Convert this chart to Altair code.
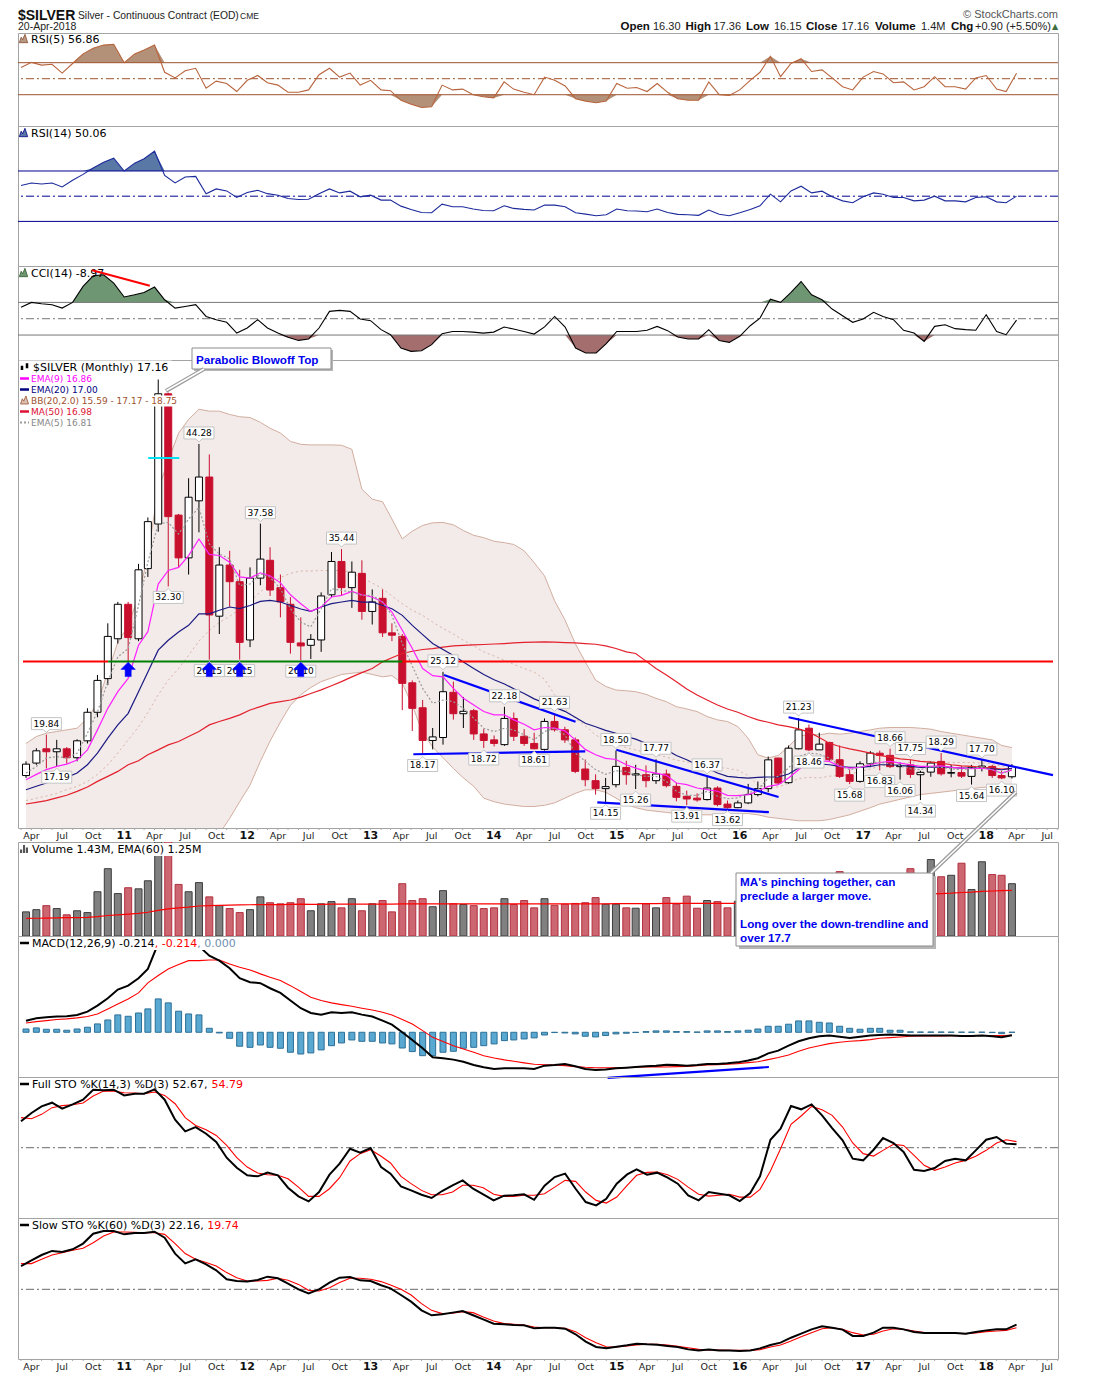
import altair as alt
import pandas as pd

# ---------------- values: monthly bars, Mar-2010 .. Apr-2018 ----------------
OPEN = [16.40, 17.45, 18.65, 18.40, 18.65, 17.90, 19.32, 21.72, 24.55, 27.90,
        30.80, 27.90, 33.80, 37.55, 48.50, 38.30, 34.70, 39.50, 41.50, 29.80, 34.10, 32.70,
        27.80, 33.00, 34.50, 32.20, 30.80, 27.55, 27.35, 27.80, 31.60, 34.40, 32.20, 33.40,
        30.20, 31.30, 28.40, 28.10, 24.20, 22.10, 19.35, 19.60, 23.40, 21.60, 21.85, 19.90,
        19.40, 19.00, 21.20, 19.70, 19.10, 18.60, 20.95, 20.25, 19.40, 16.95, 15.97, 15.30,
        15.63, 17.08, 16.45, 16.47, 15.97, 16.53, 15.49, 14.66, 14.50, 14.38, 15.35, 14.00,
        13.70, 14.10, 14.80, 15.30, 17.87, 15.80, 18.65, 20.38, 18.56, 19.18, 17.73, 16.47,
        15.91, 17.39, 18.28, 18.10, 17.15, 17.30, 16.47, 16.69, 17.59, 16.60, 16.65, 16.33,
        17.05, 17.17, 16.40, 16.30]
HIGH = [17.60, 18.70, 19.84, 19.40, 18.80, 19.45, 22.06, 24.86, 29.20, 31.00,
        31.00, 34.20, 38.10, 49.70, 48.60, 38.40, 41.40, 44.28, 43.40, 35.60, 35.30, 33.70,
        33.90, 37.58, 35.60, 33.30, 31.40, 29.70, 28.30, 31.80, 35.20, 35.44, 34.40, 34.50,
        32.05, 32.05, 29.20, 28.30, 24.40, 22.75, 20.40, 25.12, 24.30, 23.00, 22.00, 20.30,
        19.77, 22.18, 21.70, 20.30, 20.00, 21.20, 21.63, 20.50, 19.60, 17.75, 16.50, 16.20,
        18.50, 17.64, 17.30, 17.25, 17.77, 16.90, 15.80, 15.13, 14.90, 16.37, 15.50, 14.30,
        14.30, 15.70, 15.90, 18.00, 17.90, 18.93, 21.23, 20.70, 20.00, 19.25, 18.93, 16.90,
        17.60, 18.45, 18.50, 18.66, 17.50, 17.75, 16.80, 17.60, 18.29, 17.30, 17.20, 17.30,
        17.70, 17.30, 16.80, 17.36]
LOW = [16.20, 17.30, 17.00, 17.19, 17.40, 17.60, 19.10, 21.30, 24.00, 27.50,
       26.00, 27.70, 33.10, 36.90, 32.30, 33.90, 33.30, 36.85, 26.15, 28.30, 30.60, 26.15,
       27.20, 32.40, 31.50, 29.70, 26.65, 26.10, 26.20, 26.80, 31.40, 31.50, 30.50, 29.50,
       29.10, 28.05, 27.70, 21.90, 20.15, 18.17, 18.60, 19.00, 21.10, 20.40, 19.40, 18.72,
       18.85, 18.90, 19.30, 18.90, 18.61, 18.50, 20.10, 19.15, 16.60, 15.50, 14.80, 14.15,
       15.40, 15.63, 15.26, 15.41, 15.70, 15.40, 14.24, 13.91, 14.20, 14.30, 13.82, 13.62,
       13.65, 14.00, 14.65, 15.00, 15.70, 15.70, 18.60, 18.46, 18.55, 17.60, 16.20, 15.68,
       15.80, 17.10, 16.83, 17.03, 16.06, 16.20, 14.34, 16.30, 16.40, 16.25, 16.20, 15.64,
       16.75, 16.20, 16.10, 16.15]
CLOSE = [17.36, 18.48, 18.40, 18.65, 17.90, 19.32, 21.72, 24.40, 28.10, 30.80,
         28.00, 33.70, 37.75, 48.50, 38.17, 34.70, 39.80, 41.50, 29.90, 34.10, 32.70, 27.60,
         33.00, 34.60, 32.00, 31.00, 27.60, 27.30, 27.85, 31.50, 34.40, 32.20, 33.50, 30.20,
         31.00, 28.40, 28.20, 24.15, 22.05, 19.35, 19.65, 23.45, 21.60, 21.80, 19.90, 19.35,
         19.10, 21.20, 19.70, 19.10, 18.65, 20.95, 20.25, 19.40, 16.75, 16.05, 15.30, 15.47,
         17.17, 16.47, 16.55, 15.97, 16.53, 15.55, 14.57, 14.43, 14.35, 15.35, 13.96, 13.70,
         14.10, 14.80, 15.30, 17.72, 15.77, 18.70, 20.24, 18.56, 19.04, 17.73, 16.33, 15.91,
         17.39, 18.29, 18.09, 17.15, 17.25, 16.50, 16.67, 17.45, 16.55, 16.65, 16.35, 17.09,
         17.20, 16.40, 16.20, 17.16]
VOLUME_M = [0.66, 0.72, 0.83, 0.75, 0.58, 0.69, 0.64, 1.21, 1.84, 1.16,
            1.32, 1.29, 1.51, 2.60, 2.60, 1.41, 1.21, 1.46, 1.07, 0.83, 0.75, 0.64,
            0.72, 1.07, 0.91, 0.88, 0.91, 1.02, 0.69, 0.88, 0.94, 0.77, 1.02, 0.69,
            0.88, 0.97, 0.66, 1.43, 0.97, 1.02, 0.80, 1.24, 0.88, 0.86, 0.83, 0.75,
            0.77, 1.02, 0.86, 0.97, 0.77, 1.02, 0.84, 0.87, 0.89, 0.91, 1.05, 0.87,
            0.87, 0.77, 0.76, 0.88, 0.77, 1.05, 0.87, 1.09, 0.76, 0.97, 0.94, 0.77,
            0.95, 1.10, 1.00, 1.30, 1.40, 1.50, 1.50, 1.30, 1.20, 1.30, 1.76, 1.20,
            1.20, 1.30, 1.50, 1.40, 1.50, 1.84, 1.60, 2.09, 1.62, 1.66, 1.99, 1.27,
            2.03, 1.68, 1.66, 1.43]
VOL_EMA60_M = [0.48, 0.485, 0.49, 0.495, 0.50, 0.505, 0.51, 0.53, 0.56, 0.58,
               0.60, 0.62, 0.65, 0.70, 0.74, 0.77, 0.79, 0.82, 0.83, 0.84, 0.845, 0.85,
               0.855, 0.86, 0.86, 0.86, 0.865, 0.87, 0.865, 0.865, 0.87, 0.87, 0.87, 0.87,
               0.87, 0.87, 0.87, 0.88, 0.88, 0.88, 0.88, 0.88, 0.88, 0.88, 0.88, 0.88,
               0.88, 0.88, 0.88, 0.88, 0.88, 0.88, 0.88, 0.88, 0.88, 0.88, 0.88, 0.88,
               0.885, 0.885, 0.885, 0.885, 0.885, 0.89, 0.89, 0.89, 0.89, 0.89, 0.89, 0.89,
               0.89, 0.90, 0.91, 0.92, 0.94, 0.96, 0.98, 0.99, 1.00, 1.01, 1.03, 1.04,
               1.05, 1.06, 1.08, 1.09, 1.10, 1.12, 1.13, 1.15, 1.16, 1.17, 1.19, 1.20,
               1.22, 1.23, 1.24, 1.25]
EMA9 = [16.05, 16.50, 16.90, 17.17, 17.36, 17.70, 18.56, 20.24, 22.05, 23.45,
        24.57, 27.36, 28.50, 32.50, 33.64, 33.90, 34.90, 36.29, 35.00, 34.90, 34.34, 33.10,
        33.00, 33.45, 33.20, 32.60, 31.60, 30.85, 30.20, 30.57, 31.41, 31.55, 31.88, 31.60,
        31.41, 30.99, 30.15, 28.62, 27.08, 25.40, 24.80, 24.70, 23.73, 22.90, 22.33, 21.78,
        21.50, 21.50, 21.08, 20.71, 20.24, 20.44, 20.38, 20.16, 19.40, 18.60, 18.15, 17.85,
        17.75, 17.31, 17.03, 16.75, 16.61, 16.42, 15.77, 15.63, 15.35, 15.21, 15.08, 14.74,
        14.71, 14.80, 15.08, 15.49, 15.63, 16.19, 16.89, 17.59, 17.64, 17.59, 17.17, 17.03,
        17.09, 17.31, 17.50, 17.59, 17.45, 17.31, 17.17, 17.17, 17.22, 17.09, 17.03, 16.97,
        17.03, 16.89, 16.61, 16.86]
EMA20 = [15.21, 15.50, 15.77, 16.05, 16.25, 16.61, 17.31, 18.28, 19.54, 20.66,
         21.63, 23.45, 25.10, 26.94, 27.78, 28.47, 29.03, 30.00, 30.00, 30.30, 30.57, 30.43,
         30.70, 31.04, 31.13, 30.99, 30.70, 30.40, 30.20, 30.57, 30.85, 30.99, 31.13, 30.99,
         30.99, 30.70, 30.43, 29.87, 29.03, 28.25, 27.50, 27.00, 26.50, 25.95, 25.40, 24.90,
         24.45, 24.10, 23.70, 23.30, 22.85, 22.50, 22.15, 21.80, 21.30, 20.80, 20.50, 20.20,
         19.96, 19.68, 19.46, 19.12, 18.84, 18.56, 18.09, 17.73, 17.31, 17.03, 16.61, 16.33,
         16.25, 16.19, 16.25, 16.28, 16.28, 16.53, 17.03, 17.31, 17.37, 17.31, 17.17, 17.09,
         17.09, 17.17, 17.31, 17.31, 17.25, 17.17, 17.09, 17.11, 17.11, 17.09, 17.03, 17.03,
         17.03, 16.97, 16.89, 17.00]
MA50 = [14.01, 14.15, 14.29, 14.52, 14.74, 15.07, 15.44, 15.91, 16.33, 16.75,
        17.31, 17.64, 18.15, 18.56, 18.98, 19.26, 19.68, 20.10, 20.66, 20.94, 21.21, 21.50,
        21.91, 22.19, 22.47, 22.61, 22.75, 23.00, 23.30, 23.60, 23.95, 24.30, 24.70, 25.05,
        25.40, 25.96, 26.30, 26.66, 26.85, 27.00, 27.08, 27.20, 27.30, 27.35, 27.38, 27.42,
        27.46, 27.50, 27.55, 27.60, 27.62, 27.64, 27.62, 27.58, 27.55, 27.50, 27.44, 27.30,
        27.08, 26.80, 26.66, 26.02, 25.40, 24.85, 24.29, 23.67, 23.17, 22.75, 22.33, 22.00,
        21.72, 21.36, 21.08, 20.88, 20.66, 20.52, 20.32, 20.05, 19.60, 19.12, 18.84, 18.65,
        18.48, 18.29, 18.09, 17.95, 17.81, 17.73, 17.59, 17.53, 17.45, 17.31, 17.22, 17.17,
        17.09, 17.03, 16.95, 16.98]
EMA5 = [16.61, 17.17, 17.87, 18.00, 17.87, 18.28, 19.96, 21.77, 24.29, 26.38,
        27.08, 30.70, 34.34, 37.55, 37.69, 36.71, 37.97, 38.94, 35.87, 35.03, 34.62, 32.38,
        32.52, 33.36, 33.08, 32.10, 30.43, 29.30, 28.90, 30.43, 32.10, 31.97, 31.83, 31.55,
        31.55, 30.99, 29.87, 27.50, 25.60, 23.73, 22.47, 22.75, 22.61, 22.05, 21.22, 20.38,
        20.10, 20.38, 20.24, 19.82, 19.40, 20.10, 20.38, 19.82, 18.30, 17.60, 16.90, 16.50,
        16.80, 16.75, 16.47, 16.33, 16.33, 15.91, 15.08, 14.74, 14.74, 15.08, 14.66, 14.46,
        14.52, 14.94, 15.21, 16.19, 16.33, 17.03, 18.01, 18.29, 18.20, 17.87, 17.25, 16.89,
        17.09, 17.45, 17.53, 17.37, 17.25, 16.97, 16.89, 17.17, 17.09, 16.97, 16.89, 17.03,
        17.09, 16.89, 16.61, 16.81]
BB_UPPER = [19.10, 19.68, 19.96, 20.10, 20.24, 20.38, 21.20, 22.50, 25.10, 27.60,
            29.00, 31.50, 34.90, 40.50, 42.85, 45.20, 46.34, 47.20, 47.04, 47.04, 46.76, 46.57,
            46.50, 46.10, 45.60, 45.20, 44.50, 44.25, 44.20, 44.20, 44.20, 44.17, 43.83, 40.48,
            39.64, 39.42, 37.97, 36.30, 36.95, 37.43, 37.65, 37.68, 37.48, 37.00, 36.60, 36.40,
            36.10, 35.98, 35.83, 35.30, 34.30, 33.20, 31.10, 29.50, 27.50, 25.96, 24.43, 23.90,
            23.59, 23.53, 23.45, 23.23, 22.89, 22.61, 22.19, 22.00, 21.78, 21.36, 21.08, 20.94,
            20.52, 19.54, 18.15, 17.87, 18.09, 18.84, 19.68, 19.88, 19.82, 19.96, 19.88, 19.96,
            20.10, 20.24, 20.38, 20.44, 20.44, 20.44, 20.38, 20.30, 20.10, 19.96, 19.82, 19.68,
            19.54, 19.40, 18.93, 18.75]
BB_MIDDLE = [14.30, 14.49, 14.68, 14.90, 15.22, 15.49, 15.90, 16.50, 17.30, 18.30,
             19.40, 20.50, 21.70, 23.20, 24.42, 25.40, 26.52, 27.70, 28.62, 29.27, 29.78, 30.38,
             31.05, 31.85, 32.45, 33.05, 33.40, 33.60, 33.60, 33.64, 33.64, 33.64, 33.50, 33.00,
             32.60, 32.10, 31.50, 30.85, 30.30, 29.87, 29.30, 28.76, 28.30, 27.78, 27.30, 26.80,
             26.45, 26.10, 25.75, 25.40, 25.10, 24.50, 23.20, 22.00, 21.20, 20.60, 19.80, 19.40,
             19.05, 18.75, 18.55, 18.35, 18.15, 17.95, 17.70, 17.55, 17.45, 17.20, 17.10, 17.00,
             16.85, 16.40, 15.60, 15.40, 15.45, 15.75, 16.15, 16.25, 16.20, 16.35, 16.40, 16.50,
             16.75, 16.95, 17.20, 17.30, 17.40, 17.50, 17.60, 17.60, 17.55, 17.50, 17.50, 17.50,
             17.45, 17.40, 17.20, 17.17]
BB_LOWER = [9.50, 9.30, 9.40, 9.70, 10.20, 10.60, 10.60, 10.50, 9.50, 9.00,
            9.80, 9.50, 8.50, 5.90, 6.00, 5.60, 6.70, 8.20, 10.20, 11.50, 12.80, 14.20,
            15.60, 17.60, 19.30, 20.90, 22.30, 23.20, 23.80, 24.30, 24.60, 24.90, 25.00, 25.10,
            24.90, 24.70, 24.80, 24.15, 22.30, 20.00, 18.80, 17.90, 17.00, 16.20, 15.50, 14.50,
            14.20, 14.00, 13.90, 13.80, 13.80, 13.90, 14.10, 14.50, 14.90, 15.20, 15.20, 15.00,
            14.50, 14.00, 13.70, 13.50, 13.40, 13.30, 13.20, 13.10, 13.10, 13.10, 13.10, 13.10,
            13.20, 13.20, 13.10, 12.90, 12.80, 12.70, 12.60, 12.60, 12.60, 12.70, 12.90, 13.10,
            13.40, 13.70, 14.00, 14.20, 14.40, 14.60, 14.80, 14.90, 15.00, 15.10, 15.20, 15.30,
            15.40, 15.45, 15.50, 15.59]
RSI5 = [64, 70.4, 67, 68, 57, 69, 81, 88, 92, 93,
        70, 81, 86, 92, 58, 51, 60, 63, 38, 47, 44, 34,
        48, 54, 45, 42, 33, 33, 36, 55, 63, 52, 57, 42,
        48, 36, 35, 23, 18, 14, 15, 42, 36, 37, 30, 27.5,
        26, 46, 37, 33, 30, 52, 48, 41, 25, 22, 20, 22,
        44, 38, 39, 34, 44, 33, 25, 23, 23, 46, 30, 29,
        36, 48, 58, 78, 52.5, 69, 75, 59, 61, 51, 40, 36,
        52, 59, 56, 45, 46, 36, 40, 52.5, 40, 40, 37, 51,
        54, 37, 34, 56.86]
RSI14 = [58.5, 60.5, 59.7, 60.5, 57.3, 62.6, 67.3, 72.3, 77.0, 80.2,
         70.0, 76.2, 79.7, 85.7, 66.5, 60.5, 65.2, 65.7, 52.0, 55.8, 54.2, 49.0,
         52.9, 54.7, 52.0, 50.8, 48.2, 47.4, 47.6, 52.0, 55.8, 52.6, 54.0, 49.5,
         50.8, 46.9, 46.9, 42.1, 39.5, 37.1, 36.9, 43.7, 41.6, 41.6, 39.8, 38.7,
         38.5, 42.4, 40.3, 39.5, 39.0, 43.0, 42.9, 41.6, 36.9, 35.8, 34.5, 35.3,
         39.8, 38.5, 38.2, 37.7, 39.8, 37.1, 35.6, 35.3, 34.8, 39.0, 35.6, 34.5,
         36.9, 39.5, 42.4, 51.6, 45.5, 54.2, 57.9, 52.6, 54.0, 49.5, 46.3, 44.8,
         49.5, 52.6, 51.6, 49.0, 49.0, 46.3, 46.9, 50.0, 46.3, 46.3, 45.5, 49.0,
         49.5, 45.5, 44.8, 50.06]
CCI14 = [70, 100, 92, 86, 65, 100, 198, 263, 269, 218,
         133, 147, 161, 194, 116, 65, 75, 86, 14, -6, -22, -88,
         -57, -6, -57, -88, -114, -133, -124, -57, 45, 51, 45, -2,
         -12, -67, -98, -180, -200, -196, -159, -92, -78, -78, -82, -88,
         -82, -51, -63, -78, -94, -50, 14, -51, -180, -210, -210, -153,
         -78, -78, -78, -71, -47, -73, -112, -124, -124, -67, -133, -145,
         -108, -43, 4, 120, 100, 161, 228, 147, 116, 59, 18, -22,
         -2, 39, 14, -6, -71, -88, -139, -47, -37, -61, -67, -71,
         24, -78, -98, -8.97]
MACD_LINE = [0.85, 1.02, 1.10, 1.15, 1.17, 1.27, 1.51, 1.95, 2.49, 3.12,
             3.41, 3.95, 4.63, 6.50, 6.75, 6.45, 6.40, 6.30, 5.60, 5.24, 4.68, 3.95,
             3.66, 3.59, 3.22, 2.88, 2.32, 1.76, 1.41, 1.29, 1.46, 1.41, 1.46, 1.29,
             1.15, 0.85, 0.56, 0.00, -0.56, -1.17, -1.83, -1.90, -2.00, -2.15, -2.39, -2.56,
             -2.68, -2.63, -2.63, -2.63, -2.68, -2.44, -2.39, -2.32, -2.49, -2.68, -2.76, -2.73,
             -2.63, -2.59, -2.54, -2.49, -2.44, -2.37, -2.39, -2.44, -2.39, -2.32, -2.32, -2.27,
             -2.20, -2.07, -1.90, -1.54, -1.34, -0.98, -0.66, -0.44, -0.29, -0.24, -0.32, -0.41,
             -0.32, -0.24, -0.20, -0.17, -0.20, -0.24, -0.24, -0.24, -0.24, -0.24, -0.27, -0.27,
             -0.24, -0.29, -0.37, -0.214]
MACD_SIGNAL = [0.68, 0.78, 0.85, 0.93, 0.98, 1.05, 1.15, 1.34, 1.71, 2.07,
               2.44, 2.88, 3.61, 4.15, 4.63, 4.95, 5.24, 5.24, 5.29, 5.29, 5.00, 4.76,
               4.56, 4.27, 4.02, 3.78, 3.41, 2.98, 2.56, 2.32, 2.15, 2.02, 1.90, 1.76,
               1.63, 1.46, 1.27, 0.93, 0.61, 0.12, -0.37, -0.68, -0.98, -1.22, -1.46, -1.71,
               -1.88, -2.02, -2.12, -2.24, -2.34, -2.37, -2.39, -2.44, -2.51, -2.56, -2.59, -2.59,
               -2.59, -2.59, -2.56, -2.54, -2.51, -2.54, -2.51, -2.49, -2.44, -2.39, -2.37, -2.34,
               -2.29, -2.22, -2.15, -2.00, -1.85, -1.66, -1.39, -1.15, -0.98, -0.83, -0.73, -0.66,
               -0.61, -0.54, -0.44, -0.39, -0.34, -0.29, -0.27, -0.27, -0.26, -0.25, -0.25, -0.25,
               -0.24, -0.24, -0.23, -0.214]
MACD_HIST = [0.24, 0.32, 0.22, 0.22, 0.15, 0.24, 0.37, 0.61, 0.90, 1.27,
             1.17, 1.41, 1.71, 2.44, 2.15, 1.54, 1.34, 1.27, 0.29, -0.05, -0.44, -1.02,
             -1.10, -0.93, -1.10, -1.17, -1.46, -1.59, -1.51, -1.29, -0.98, -0.78, -0.56, -0.66,
             -0.66, -0.78, -0.85, -1.15, -1.41, -1.71, -1.71, -1.46, -1.39, -1.17, -1.10, -0.98,
             -0.85, -0.61, -0.56, -0.49, -0.41, -0.20, -0.02, -0.05, -0.12, -0.29, -0.34, -0.24,
             -0.12, -0.07, -0.02, 0.05, 0.10, 0.10, 0.05, 0.05, 0.02, 0.10, 0.10, 0.05,
             0.10, 0.15, 0.24, 0.44, 0.44, 0.59, 0.83, 0.83, 0.73, 0.68, 0.44, 0.29,
             0.22, 0.29, 0.29, 0.15, 0.15, 0.03, 0.02, 0.02, 0.02, 0.01, 0.01, 0.01,
             0.01, -0.02, -0.10, 0.00]
FULL_K = [70.8, 77.4, 82.6, 85.5, 80.8, 84.2, 87.9, 95.8, 95.3, 95.8,
          91.3, 92.6, 92.6, 96.0, 87.9, 72.1, 62.9, 66.3, 61.0, 54.5, 42.1, 34.2,
          28.2, 27.4, 30.3, 28.2, 18.4, 11.6, 7.6, 15.0, 28.7, 37.4, 49.2, 46.1,
          49.7, 34.7, 29.5, 19.5, 16.3, 12.9, 10.3, 15.8, 20.3, 24.2, 17.6, 13.2,
          8.4, 12.1, 12.4, 13.2, 8.9, 20.0, 26.8, 29.5, 17.6, 7.1, 4.5, 9.7,
          21.6, 28.9, 32.9, 28.7, 30.3, 26.3, 21.6, 12.4, 8.4, 15.0, 13.7, 12.4,
          7.9, 14.2, 27.4, 56.3, 65.0, 82.9, 80.3, 84.2, 75.5, 65.5, 55.8, 41.3,
          40.0, 48.4, 57.6, 53.7, 46.6, 32.6, 31.6, 33.9, 39.5, 41.3, 40.0, 47.9,
          56.3, 58.4, 53.2, 52.67]
FULL_D = [73.7, 72.9, 76.3, 81.6, 83.2, 83.9, 85.3, 90.8, 94.7, 94.5,
          93.4, 93.2, 92.6, 93.9, 91.3, 84.7, 73.7, 67.6, 64.2, 59.7, 51.8, 42.1,
          34.7, 30.0, 28.7, 28.2, 25.5, 18.9, 11.6, 11.6, 17.6, 26.3, 39.5, 45.3,
          48.4, 43.2, 37.9, 27.4, 21.6, 16.3, 12.9, 12.9, 15.0, 20.3, 20.3, 18.4,
          13.2, 11.6, 11.6, 12.4, 12.4, 13.7, 18.9, 24.2, 23.4, 15.0, 8.4, 6.3,
          11.0, 20.3, 28.2, 30.5, 30.8, 28.7, 25.0, 18.9, 13.2, 11.8, 12.4, 13.2,
          11.0, 11.0, 17.1, 31.6, 49.2, 68.4, 75.0, 82.6, 80.0, 75.5, 66.3, 53.7,
          45.3, 43.4, 47.9, 52.6, 51.8, 44.0, 36.1, 32.1, 34.7, 37.9, 40.0, 43.2,
          47.9, 53.7, 56.3, 54.79]
SLOW_K = [68.4, 72.9, 77.1, 80.3, 79.5, 81.6, 86.1, 93.9, 96.0, 96.0,
          93.4, 94.5, 94.5, 95.5, 90.8, 78.2, 70.5, 73.7, 69.7, 65.0, 57.9, 56.6,
          56.1, 57.4, 60.0, 58.7, 54.5, 50.0, 46.8, 50.0, 55.3, 59.2, 59.7, 57.1,
          56.6, 53.2, 50.8, 45.5, 40.3, 33.4, 29.5, 30.3, 31.6, 32.9, 29.5, 26.3,
          22.9, 22.4, 21.8, 21.6, 19.2, 19.7, 19.7, 18.9, 14.5, 8.7, 4.5, 3.4,
          4.7, 5.8, 7.1, 6.6, 6.3, 5.3, 4.5, 2.6, 1.8, 2.4, 1.8, 1.8,
          1.3, 1.8, 3.4, 6.1, 7.9, 11.8, 15.0, 18.4, 20.8, 19.7, 18.2, 13.2,
          13.2, 15.8, 19.7, 19.7, 18.4, 16.3, 15.5, 15.5, 15.5, 15.5, 15.0, 16.3,
          17.6, 18.4, 18.4, 22.16]
SLOW_D = [70.3, 70.3, 73.7, 77.1, 78.9, 80.8, 82.4, 86.8, 92.1, 95.3,
          95.3, 95.0, 94.7, 94.7, 93.4, 86.1, 78.2, 73.7, 71.1, 68.4, 63.2, 59.2,
          56.6, 56.6, 57.1, 58.7, 57.1, 53.9, 49.2, 48.7, 51.3, 55.3, 58.7, 58.7,
          57.9, 56.1, 53.4, 50.0, 45.5, 38.7, 33.4, 30.8, 31.1, 32.4, 31.6, 28.2,
          25.0, 22.9, 22.4, 21.8, 20.3, 19.7, 19.7, 19.2, 16.6, 11.8, 7.9, 4.7,
          4.5, 5.3, 6.1, 6.6, 6.6, 6.1, 5.0, 3.9, 2.6, 2.1, 2.1, 1.8,
          1.8, 1.8, 2.4, 4.5, 6.1, 9.2, 12.6, 15.8, 18.9, 19.7, 18.4, 15.8,
          13.9, 14.5, 17.1, 18.9, 18.4, 17.1, 15.8, 15.3, 15.3, 15.3, 15.0, 15.5,
          16.6, 17.1, 17.6, 19.74]

# swing-high / swing-low value labels printed on the price panel
PEAK_MONTHS = ["2010-05", "2010-06", "2011-05", "2011-08", "2011-09", "2011-12", "2012-02", "2012-06",
               "2012-10", "2013-06", "2013-08", "2013-12", "2014-02", "2014-05", "2014-07", "2014-12",
               "2015-01", "2015-03", "2015-05", "2015-08", "2015-10", "2015-12", "2016-07", "2016-08",
               "2016-12", "2017-03", "2017-04", "2017-05", "2017-06", "2017-07", "2017-09", "2017-12",
               "2018-01", "2018-03"]
PEAK_VALUES = [19.84, 17.19, 32.30, 44.28, 26.15, 26.15, 37.58, 26.10, 35.44, 18.17,
               25.12, 18.72, 22.18, 18.61, 21.63, 14.15, 18.50, 15.26, 17.77, 13.91,
               16.37, 13.62, 21.23, 18.46, 15.68, 16.83, 18.66, 16.06, 17.75, 14.34,
               18.29, 15.64, 17.70, 16.10]
PEAK_SIDE = ["hi", "lo", "lo", "hi", "lo", "lo", "hi", "lo", "hi", "lo",
             "hi", "lo", "hi", "lo", "hi", "lo", "hi", "lo", "hi", "lo",
             "hi", "lo", "hi", "lo", "lo", "lo", "hi", "lo", "hi", "lo",
             "hi", "lo", "hi", "lo"]
SUPPORT_LEVEL = 26.0
ARROW_MONTHS = ["2011-01", "2011-09", "2011-12", "2012-06"]
# hand-drawn annotation lines: (start date, value, end date, value)
PRICE_TRENDS = [("2013-08-04", 24.85, "2014-09-02", 20.92),
                ("2013-05-04", 18.19, "2014-10-01", 18.43),
                ("2015-01-02", 18.57, "2016-05-02", 14.60),
                ("2014-11-06", 14.15, "2016-04-03", 13.32),
                ("2016-06-01", 21.30, "2018-08-02", 16.43)]
SUPPORT_RED = [("2010-02-20", 26.0, "2010-11-02", 26.0), ("2013-04-01", 26.0, "2018-08-02", 26.0)]
SUPPORT_GREEN = [("2010-11-02", 26.0, "2013-04-01", 26.0)]
CYAN_MARK = [("2011-03-02", 43.1, "2011-06-03", 43.1)]
CCI_TREND = [("2010-09-28", 297, "2011-03-18", 202)]
MACD_TREND = [("2014-12-07", -3.34, "2016-04-03", -2.54)]

# ------------------------------------------------------------------------------------------
cols = dict(open=OPEN, high=HIGH, low=LOW, close=CLOSE, vol=VOLUME_M, vol_ema=VOL_EMA60_M,
            ema9=EMA9, ema20=EMA20, ma50=MA50, ema5=EMA5, bb_up=BB_UPPER, bb_mid=BB_MIDDLE,
            bb_lo=BB_LOWER, rsi5=RSI5, rsi14=RSI14, cci=CCI14, macd=MACD_LINE, sig=MACD_SIGNAL,
            hist=MACD_HIST, fk=FULL_K, fd=FULL_D, sk=SLOW_K, sd=SLOW_D)
N = len(CLOSE)
for k, v in cols.items():
    assert len(v) == N, f"{k} has {len(v)} values, expected {N}"
df = pd.DataFrame(cols)
df["date"] = pd.date_range("2010-03-01", periods=N, freq="MS")
df["dir"] = ["up" if c >= o else "down" for o, c in zip(OPEN, CLOSE)]

W = 1040
FONT = "DejaVu Sans"
SANS = "Liberation Sans"
XS = alt.Scale(domain=[alt.DateTime(year=2010, month=2, date=20), alt.DateTime(year=2018, month=8, date=2)])
ONE = pd.DataFrame({"k": [0]})
XN = alt.X("date:T", scale=XS, axis=None)
GRID_X = alt.Axis(tickCount={"interval": "month", "step": 3}, grid=True, labels=False, ticks=False,
                  domain=False, title=None,
                  gridColor={"condition": {"test": "month(datum.value) == 0", "value": "#bcbcbc"},
                             "value": "#e2e2e2"})
XG = alt.X("date:T", scale=XS, axis=GRID_X)

DV = {' ': 651, '$': 1303, '%': 1946, '(': 799, ')': 799, ',': 651, '-': 739, '.': 651,
      'A': 1401, 'B': 1405, 'C': 1430, 'D': 1577, 'E': 1294, 'F': 1178, 'I': 604, 'K': 1343, 'L': 1141,
      'M': 1767, 'O': 1612, 'R': 1423, 'S': 1300, 'T': 1251, 'V': 1401, 'y': 1212, 'n': 1298, 't': 803,
      'h': 1298, 'l': 569, 'o': 1253, 'u': 1298, 'w': 1675, 'm': 1995, 'e': 1260}
for ch in "0123456789":
    DV[ch] = 1303


def tw(s, size):
    return sum(DV.get(c, 1250) for c in s) * size / 2048.0


def yaxis(values, expr):
    return alt.Axis(orient="right", values=values, grid=True, gridColor="#e2e2e2", ticks=False,
                    domain=False, title=None, labelFont=FONT, labelFontSize=10, labelColor="#222222",
                    labelPadding=4, labelExpr=expr)


def txt(x, y, s, color="#000000", size=11, weight="normal", font=FONT, align="left"):
    return alt.Chart(ONE).mark_text(align=align, baseline="alphabetic", font=font, fontSize=size,
                                    fontWeight=weight, color=color).encode(
        x=alt.value(x), y=alt.value(y), text=alt.value(s))


def seg(x1, y1, x2, y2, color, width=1.0, dash=None):
    kw = dict(color=color, strokeWidth=width)
    if dash:
        kw["strokeDash"] = dash
    return alt.Chart(ONE).mark_rule(**kw).encode(x=alt.value(x1), y=alt.value(y1),
                                                 x2=alt.value(x2), y2=alt.value(y2))


def box(x1, y1, x2, y2, fill, stroke=None):
    kw = dict(fill=fill)
    if stroke:
        kw.update(stroke=stroke, strokeWidth=1)
    return alt.Chart(ONE).mark_rect(**kw).encode(x=alt.value(x1), x2=alt.value(x2),
                                                 y=alt.value(y1), y2=alt.value(y2))


def sym(x, y, shape, fill, size, stroke=None):
    kw = dict(shape=shape, filled=True, fill=fill, size=size, opacity=1)
    if stroke:
        kw.update(stroke=stroke, strokeWidth=0.8)
    return alt.Chart(ONE).mark_point(**kw).encode(x=alt.value(x), y=alt.value(y))


def dated(rows):
    d = pd.DataFrame(rows, columns=["d1", "p1", "d2", "p2"])
    d["d1"] = pd.to_datetime(d["d1"])
    d["d2"] = pd.to_datetime(d["d2"])
    return d


MOUNTAIN = "M-1,1 L-0.55,-0.3 L-0.2,0.3 L0.35,-1 L1,1 Z"
CANDLE_ICON = "M-0.9,-0.3 L-0.3,-0.3 L-0.3,0.7 L-0.9,0.7 Z M0.3,-0.9 L0.9,-0.9 L0.9,0.3 L0.3,0.3 Z"
BARS_ICON = "M-1,1 L-1,0.1 L-0.45,0.1 L-0.45,1 Z M-0.25,1 L-0.25,-1 L0.25,-1 L0.25,1 Z M0.45,1 L0.45,-0.4 L1,-0.4 L1,1 Z"
HI_SHAPE = "M0,0 L-0.2,-0.2 L-1,-0.2 L-1,-1 L1,-1 L1,-0.2 L0.2,-0.2 Z"
LO_SHAPE = "M0,0 L0.2,0.2 L1,0.2 L1,1 L-1,1 L-1,0.2 L-0.2,0.2 Z"
ARROW = "M0,-1 L1,0 L0.42,0 L0.42,1 L-0.42,1 L-0.42,0 L-1,0 Z"
DASHDOT = [8, 3, 2, 3]
RSI_EXPR = "datum.value % 20 == 10 ? '' + datum.value : ''"
TEN = list(range(0, 101, 10))


def osc_panel(field, ysc, H, line_color, fill_hi, fill_lo, ref_color, hi_lvl, lo_lvl, mid_lvl,
              values, expr, extra):
    b = alt.Chart(df)
    layers = [
        b.transform_calculate(v=f"max(datum.{field}, {hi_lvl})").mark_area(color=fill_hi, clip=True).encode(
            x=XG, y=alt.Y("v:Q", scale=ysc, axis=yaxis(values, expr)), y2=alt.datum(hi_lvl)),
        b.transform_calculate(v=f"min(datum.{field}, {lo_lvl})").mark_area(color=fill_lo, clip=True).encode(
            x=XN, y=alt.Y("v:Q", scale=ysc, axis=None), y2=alt.datum(lo_lvl)),
        alt.Chart(pd.DataFrame({"lv": [hi_lvl, lo_lvl]})).mark_rule(color=ref_color, strokeWidth=1).encode(
            y=alt.Y("lv:Q", scale=ysc, axis=None)),
        alt.Chart(pd.DataFrame({"lv": [mid_lvl]})).mark_rule(color=ref_color, strokeWidth=1,
                                                             strokeDash=DASHDOT).encode(
            y=alt.Y("lv:Q", scale=ysc, axis=None)),
        b.mark_line(color=line_color, strokeWidth=1.1, clip=True).encode(
            x=XN, y=alt.Y(f"{field}:Q", scale=ysc, axis=None)),
    ]
    return alt.layer(*(layers + extra)).properties(width=W, height=H)


# ---------------- RSI(5) panel with page header ----------------
ys_r5 = alt.Scale(domain=[-9.1, 107.1], nice=False, zero=False)
hdr_segments = [("Open", 602.5, True), ("16.30", 635, False), ("High", 667.5, True), ("17.36", 695.5, False),
                ("Low", 728, True), ("16.15", 756, False), ("Close", 788, True), ("17.16", 823.5, False),
                ("Volume", 857, True), ("1.4M", 903, False), ("Chg", 933, True), ("+0.90 (+5.50%)", 957, False)]
header = [
    txt(0, -13.5, "$SILVER", "#111111", 14, "bold", SANS),
    txt(60, -14.5, "Silver - Continuous Contract (EOD)", "#222222", 10.3, "normal", SANS),
    txt(222, -14.5, "CME", "#222222", 8.5, "normal", SANS),
    txt(0, -3, "20-Apr-2018", "#222222", 10.5, "normal", SANS),
    txt(1040, -15.5, "\u00a9 StockCharts.com", "#555555", 11, "normal", SANS, "right"),
    txt(1034, -4, "\u25b2", "#3c6e3c", 8, "normal", FONT),
]
for s, x, bold in hdr_segments:
    header.append(txt(x, -3, s, "#111111" if bold else "#222222", 11.5 if bold else 11,
                      "bold" if bold else "normal", SANS))
rsi5_extra = [sym(5.5, 5.5, MOUNTAIN, "#b79a86", 70, "#8b4a2b"),
              txt(13, 10, "RSI(5) 56.86")] + header
p_rsi5 = osc_panel("rsi5", ys_r5, 93, "#b8643c", "#b39078", "#b39078", "#a0522d", 70, 30, 50,
                   TEN, RSI_EXPR, rsi5_extra)

# ---------------- RSI(14) ----------------
ys_r14 = alt.Scale(domain=[-5.4, 105.7], nice=False, zero=False)
p_rsi14 = osc_panel("rsi14", ys_r14, 140, "#1c2a9c", "#5a78a6", "#5a78a6", "#000090", 70, 30, 50,
                    TEN, RSI_EXPR,
                    [sym(5.5, 6.5, MOUNTAIN, "#5a78a6", 70, "#000080"), txt(13, 11, "RSI(14) 50.06")])

# ---------------- CCI(14) ----------------
ys_cci = alt.Scale(domain=[-253, 323], nice=False, zero=False)
cci_line = dated(CCI_TREND)
cci_extra = [sym(5.5, 6.5, MOUNTAIN, "#6e9673", 70, "#2d5a2d"), txt(13, 11, "CCI(14) -8.97"),
             alt.Chart(cci_line).mark_rule(color="#ff0000", strokeWidth=2).encode(
                 x=alt.X("d1:T", scale=XS, axis=None), x2=alt.X2("d2"),
                 y=alt.Y("p1:Q", scale=ys_cci, axis=None), y2=alt.Y2("p2"))]
p_cci = osc_panel("cci", ys_cci, 94, "#000000", "#6e9673", "#a56e6e", "#777777", 100, -100, 0,
                  list(range(-250, 301, 50)),
                  "datum.value % 100 == 0 && datum.value >= -200 ? (datum.value < 0 ? '-' + abs(datum.value) : '' + datum.value) : ''",
                  cci_extra)

# ---------------- price panel ----------------
ysP = alt.Scale(domain=[11.99, 51.34], nice=False, zero=False)
bp = alt.Chart(df)


def PY(f):
    return alt.Y(f, scale=ysP, axis=None)


def pline(field, color, width=1.2, dash=None):
    kw = dict(color=color, strokeWidth=width, clip=True)
    if dash:
        kw["strokeDash"] = dash
    return bp.mark_line(**kw).encode(x=XN, y=PY(f"{field}:Q"))


def prule(rows, color, width, clip=True):
    return alt.Chart(dated(rows)).mark_rule(color=color, strokeWidth=width, clip=clip).encode(
        x=alt.X("d1:T", scale=XS, axis=None), x2=alt.X2("d2"), y=PY("p1:Q"), y2=alt.Y2("p2"))


lab = pd.DataFrame({"date": pd.to_datetime([m + "-01" for m in PEAK_MONTHS]), "v": PEAK_VALUES,
                    "side": PEAK_SIDE, "t": [f"{v:.2f}" for v in PEAK_VALUES]})
lab_hi = lab[lab["side"] == "hi"]
lab_lo = lab[lab["side"] == "lo"]
arrows = pd.DataFrame({"date": pd.to_datetime([m + "-01" for m in ARROW_MONTHS]),
                       "v": [SUPPORT_LEVEL] * len(ARROW_MONTHS)})

legend_lines = [
    (15, 11, "$SILVER (Monthly) 17.16", "#000000", 11),
    (13, 22, "EMA(9) 16.86", "#ff00ff", 9),
    (13, 33, "EMA(20) 17.00", "#000080", 9),
    (13, 44, "BB(20,2.0) 15.59 - 17.17 - 18.75", "#a0522d", 9),
    (13, 55, "MA(50) 16.98", "#dd1133", 9),
    (13, 66, "EMA(5) 16.81", "#888888", 9),
]
legend_layers = []
for x, y, s, c, fs in legend_lines:
    legend_layers.append(box(1, y - fs + 0.5, x + tw(s, fs) + 2, y + 2.5, "#ffffff"))
for x, y, s, c, fs in legend_lines:
    legend_layers.append(txt(x, y, s, c, fs))
legend_layers += [
    sym(6.5, 7, CANDLE_ICON, "#000000", 70),
    seg(2, 18.5, 11, 18.5, "#ff00ff", 2.5),
    seg(2, 29.5, 11, 29.5, "#000080", 2.5),
    sym(6.5, 40, MOUNTAIN, "#d8c0b4", 64, "#a0522d"),
    seg(2, 51.5, 11, 51.5, "#dd1133", 2.5),
    seg(2, 62.5, 11, 62.5, "#999999", 2, [2, 2]),
]

price_layers = [
    bp.mark_area(color="#c8a0a0", opacity=0.22, clip=True).encode(
        x=XG, y=alt.Y("bb_up:Q", scale=ysP,
                      axis=yaxis(list(range(12, 51, 2)), "datum.value >= 14 ? '' + datum.value : ''")),
        y2=alt.Y2("bb_lo")),
    pline("bb_up", "#d2ae9f", 1),
    pline("bb_lo", "#d2ae9f", 1),
    pline("bb_mid", "#d8b4a4", 1, [2, 3]),
    bp.mark_rule(strokeWidth=1, clip=True).encode(
        x=XN, y=PY("low:Q"), y2=alt.Y2("high"),
        color=alt.Color("dir:N", scale=alt.Scale(domain=["up", "down"], range=["#000000", "#c8102e"]),
                        legend=None)),
    bp.mark_bar(width=7, strokeWidth=1, clip=True).encode(
        x=XN, y=PY("open:Q"), y2=alt.Y2("close"),
        fill=alt.Fill("dir:N", scale=alt.Scale(domain=["up", "down"], range=["#ffffff", "#c8102e"]),
                      legend=None),
        stroke=alt.Stroke("dir:N", scale=alt.Scale(domain=["up", "down"], range=["#000000", "#c8102e"]),
                          legend=None)),
    pline("ma50", "#e3202c", 1.2),
    pline("ema20", "#1a1a82", 1.2),
    pline("ema9", "#ff22ff", 1.2),
    pline("ema5", "#9a9a9a", 1.2, [2, 2]),
    prule(SUPPORT_RED, "#ff0000", 2),
    prule(SUPPORT_GREEN, "#008000", 2),
    prule(PRICE_TRENDS, "#0000ff", 2.2),
    prule(CYAN_MARK, "#00e0f0", 2),
    alt.Chart(lab_hi).mark_point(shape=HI_SHAPE, size=900, filled=True, fill="#ffffff", stroke="#c4c4c4",
                                 strokeWidth=1, opacity=1, yOffset=-2).encode(x=XN, y=PY("v:Q")),
    alt.Chart(lab_hi).mark_text(font=FONT, fontSize=9, dy=-11, baseline="middle", color="#000000").encode(
        x=XN, y=PY("v:Q"), text="t:N"),
    alt.Chart(lab_lo).mark_point(shape=LO_SHAPE, size=900, filled=True, fill="#ffffff", stroke="#c4c4c4",
                                 strokeWidth=1, opacity=1, yOffset=2).encode(x=XN, y=PY("v:Q")),
    alt.Chart(lab_lo).mark_text(font=FONT, fontSize=9, dy=11, baseline="middle", color="#000000").encode(
        x=XN, y=PY("v:Q"), text="t:N"),
    alt.Chart(arrows).mark_point(shape=ARROW, size=210, filled=True, fill="#0000ff", stroke="#0000ff",
                                 strokeWidth=0.5, opacity=1, yOffset=8).encode(x=XN, y=PY("v:Q")),
] + legend_layers + [
    # callout
    box(176, -10, 315, 11, "#b5b5b5"),
    box(174, -12, 313, 9, "#ffffff", "#8c8c8c"),
    txt(178, 3.5, "Parabolic Blowoff Top", "#0000ee", 11.7, "bold", SANS),
    seg(186, 9, 148, 31, "#9a9a9a", 4),
    seg(186, 9, 148.5, 30.5, "#ffffff", 1.6),
]
p_price = alt.layer(*price_layers).properties(width=W, height=468)

# ---------------- time-axis label strips ----------------
Q = pd.date_range("2010-04-01", "2018-07-01", freq="QS-JAN")
qdf = pd.DataFrame({"date": Q, "lab": [f"{d.year % 100:02d}" if d.month == 1 else d.strftime("%b") for d in Q],
                    "yr": [d.month == 1 for d in Q]})
mdf = pd.DataFrame({"date": pd.date_range("2010-03-01", "2018-08-01", freq="MS")})


def axis_strip():
    return alt.layer(
        alt.Chart(mdf).mark_rule(color="#a8a8a8").encode(x=XN, y=alt.value(0), y2=alt.value(2)),
        alt.Chart(qdf[~qdf["yr"]]).mark_text(font=FONT, fontSize=9.5, baseline="middle", color="#222222").encode(
            x=XN, y=alt.value(7.5), text="lab:N"),
        alt.Chart(qdf[qdf["yr"]]).mark_text(font=FONT, fontSize=11, fontWeight="bold", baseline="middle",
                                            color="#111111").encode(x=XN, y=alt.value(7.5), text="lab:N"),
    ).properties(width=W, height=14, view=alt.ViewBackground(stroke="transparent"))


# ---------------- volume ----------------
ys_v = alt.Scale(domain=[0, 2.57], nice=False, zero=False)
bv = alt.Chart(df)
p_vol = alt.layer(
    bv.mark_bar(width=7, strokeWidth=1, clip=True).encode(
        x=XG, y=alt.Y("vol:Q", scale=ys_v, axis=yaxis([0, 0.5, 1.0, 1.5, 2.0, 2.5],
                                                       "datum.value == 0.5 ? '500K' : (datum.value >= 1 && datum.value <= 2 ? format(datum.value, '.1f') + 'M' : '')")),
        fill=alt.Fill("dir:N", scale=alt.Scale(domain=["up", "down"], range=["#808080", "#cc6670"]), legend=None),
        stroke=alt.Stroke("dir:N", scale=alt.Scale(domain=["up", "down"], range=["#3c3c3c", "#b3303f"]),
                          legend=None)),
    bv.mark_line(color="#ff0000", strokeWidth=1.2, clip=True).encode(x=XN, y=alt.Y("vol_ema:Q", scale=ys_v, axis=None)),
    box(1, 1, 200, 14, "#ffffff"),
    sym(6, 7, BARS_ICON, "#555555", 64),
    txt(14, 11, "Volume 1.43M, EMA(60) 1.25M"),
).properties(width=W, height=94)

# ---------------- MACD ----------------
ys_m = alt.Scale(domain=[-3.27, 7.04], nice=False, zero=False)
bm = alt.Chart(df)
macd_trend = dated(MACD_TREND)
m1 = "MACD(12,26,9) -0.214"
m2 = ", -0.214"
m3 = ", 0.000"
p_macd = alt.layer(
    bm.mark_bar(width=6, strokeWidth=1, clip=True, fill="#58a8d2", stroke="#2d6f96").encode(
        x=XG, y=alt.Y("hist:Q", scale=ys_m, axis=yaxis(list(range(-3, 8)),
                                                        "datum.value <= 6 ? (datum.value < 0 ? '-' + abs(datum.value) : '' + datum.value) : ''")),
        y2=alt.datum(0)),
    bm.mark_line(color="#ff0000", strokeWidth=1.1, clip=True).encode(x=XN, y=alt.Y("sig:Q", scale=ys_m, axis=None)),
    bm.mark_line(color="#000000", strokeWidth=2, clip=True).encode(x=XN, y=alt.Y("macd:Q", scale=ys_m, axis=None)),
    alt.Chart(macd_trend).mark_rule(color="#0000ff", strokeWidth=2.2).encode(
        x=alt.X("d1:T", scale=XS, axis=None), x2=alt.X2("d2"),
        y=alt.Y("p1:Q", scale=ys_m, axis=None), y2=alt.Y2("p2")),
    box(1, 1, 14 + tw(m1 + m2 + m3, 11) + 4, 14, "#ffffff"),
    seg(2, 7, 11, 7, "#000000", 2.5),
    txt(14, 11, m1),
    txt(14 + tw(m1, 11), 11, m2, "#ff0000"),
    txt(14 + tw(m1 + m2, 11), 11, m3, "#6f8fb0"),
    # callout box
    box(721, -60, 918, 13, "#b5b5b5"),
    box(718, -63, 915, 10, "#ffffff", "#8c8c8c"),
    txt(722, -50, "MA's pinching together, can", "#0000ee", 11.7, "bold", SANS),
    txt(722, -36, "preclude a larger move.", "#0000ee", 11.7, "bold", SANS),
    txt(722, -8, "Long over the down-trendline and", "#0000ee", 11.7, "bold", SANS),
    txt(722, 6, "over 17.7", "#0000ee", 11.7, "bold", SANS),
    seg(913, -63, 998, -144, "#9a9a9a", 4),
    seg(913, -63, 998, -144, "#ffffff", 1.6),
).properties(width=W, height=141)


# ---------------- stochastics ----------------
def sto_panel(kf, df_, ysc, title, kval, dval):
    b = alt.Chart(df)
    return alt.layer(
        alt.Chart(pd.DataFrame({"lv": [80, 20]})).mark_rule(color="#6a6a6a", strokeWidth=1).encode(
            x=XG, y=alt.Y("lv:Q", scale=ysc, axis=yaxis(TEN, "datum.value == 20 || datum.value == 50 || datum.value == 80 ? '' + datum.value : ''"))),
        alt.Chart(pd.DataFrame({"lv": [50]})).mark_rule(color="#6a6a6a", strokeWidth=1, strokeDash=DASHDOT).encode(
            y=alt.Y("lv:Q", scale=ysc, axis=None)),
        b.mark_line(color="#ff0000", strokeWidth=1.1, clip=True).encode(x=XN, y=alt.Y(f"{df_}:Q", scale=ysc, axis=None)),
        b.mark_line(color="#000000", strokeWidth=2, clip=True).encode(x=XN, y=alt.Y(f"{kf}:Q", scale=ysc, axis=None)),
        seg(2, 7, 11, 7, "#000000", 2.5),
        txt(14, 11, f"{title} {kval}, "),
        txt(14 + tw(f"{title} {kval}, ", 11), 11, dval, "#ff0000"),
    ).properties(width=W, height=141)


p_full = sto_panel("fk", "fd", alt.Scale(domain=[-5.5, 105.8], nice=False, zero=False),
                   "Full STO %K(14,3) %D(3)", "52.67", "54.79")
p_slow = sto_panel("sk", "sd", alt.Scale(domain=[-5.0, 106.3], nice=False, zero=False),
                   "Slow STO %K(60) %D(3)", "22.16", "19.74")

chart = alt.vconcat(p_rsi5, p_rsi14, p_cci, p_price, axis_strip(), p_vol, p_macd, p_full, p_slow,
                    axis_strip(), spacing=0, bounds="flush").resolve_scale(
    color="independent", fill="independent", stroke="independent"
).properties(
    padding={"left": 9, "top": 0, "right": 4, "bottom": 0}, background="white"
).configure_view(stroke="#a3a3a3", strokeWidth=1)

chart.save("out.html", embed_options={"renderer": "svg", "actions": False})
